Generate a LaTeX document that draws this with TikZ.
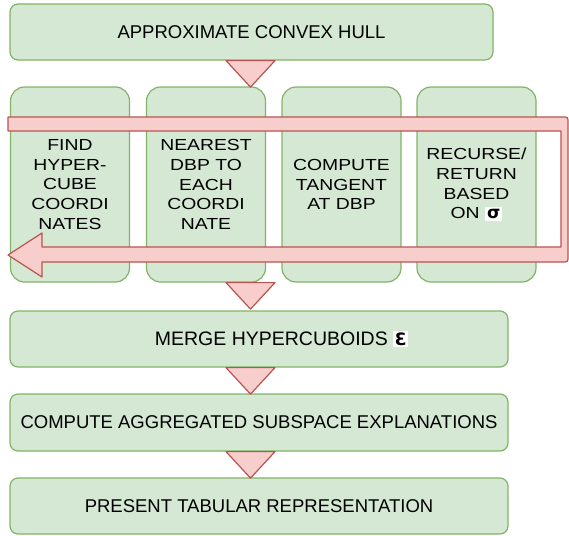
\documentclass[tikz,border=0pt]{standalone}
\usepackage{fontspec}
\setmainfont{Liberation Sans}
\newfontfamily\midfont{Liberation Sans}[FakeStretch=1.21]
\newfontfamily\symfont{DejaVu Sans}
\definecolor{gfill}{HTML}{D5E8D4}
\definecolor{gline}{HTML}{82B366}
\definecolor{rfill}{HTML}{F8CECC}
\definecolor{rline}{HTML}{B85450}
\newcommand{\sigbox}{{\setlength{\fboxsep}{2pt}\colorbox{white}{\symfont\bfseries\fontsize{17}{17}\selectfont σ}}}
\newcommand{\epsbox}{{\setlength{\fboxsep}{1.5pt}\colorbox{white}{\symfont\bfseries\fontsize{17}{17}\selectfont Ɛ}}}
\begin{document}
\begin{tikzpicture}[x=1pt,y=-1pt,
  wide/.style={draw=gline, fill=gfill, line width=1.2pt, rounded corners=8pt,
    minimum height=56pt, inner sep=0pt},
  tall/.style={draw=gline, fill=gfill, line width=1.2pt, rounded corners=14pt,
    minimum width=119pt, minimum height=195pt, inner sep=0pt, align=center,
    font=\midfont\fontsize{16}{19.7}\selectfont},
  lbl/.style={font=\fontsize{18.5}{22}\selectfont, inner sep=0pt},
  loopstyle/.style={draw=rline, fill=rfill, line width=1.2pt, line join=round},
  tri/.pic={\draw[draw=rline, fill=rfill, line width=1.2pt, line join=round]
    (-24.5,0) -- (24.5,0) -- (0,26.5) -- cycle;}
]
\useasboundingbox (0,0) rectangle (569,535);

% top box
\node[wide, lbl, minimum width=483pt] (hull) at (251.5,32) {APPROXIMATE CONVEX HULL};

% middle boxes
\node[tall] (m1) at (70,184.5) {FIND\\HYPER-\\CUBE\\COORDI\\NATES};
\node[tall] (m2) at (206,184.5) {NEAREST\\DBP TO\\EACH\\COORDI\\NATE};
\node[tall] (m3) at (341.5,184.5) {COMPUTE\\TANGENT\\AT DBP};
\node[tall] (m4) at (476.5,184.5) {RECURSE/\\RETURN\\BASED\\ON \sigbox};

% lower boxes
\node[wide, minimum width=498pt] (merge) at (259,339) {};
\node[lbl, font=\fontsize{19.5}{22}\selectfont] (mergetxt) at (281.5,339) {MERGE HYPERCUBOIDS \epsbox};
\node[wide, lbl, minimum width=498pt, minimum height=57pt] (agg) at (259,422.5) {COMPUTE AGGREGATED SUBSPACE EXPLANATIONS};
\node[wide, lbl, minimum width=498pt] (pres) at (259,506) {PRESENT TABULAR REPRESENTATION};

% loop arrow
\draw[loopstyle] (8,117) -- (562,117) .. controls (568,117) .. (568,123)
  -- (568,256) .. controls (568,262) .. (562,262)
  -- (42,262) -- (42,277) -- (8,255) -- (42,233) -- (42,247)
  -- (561,247) -- (561,131) -- (8,131) -- cycle;

% triangles
\coordinate (tx) at (250.5,0);
\pic at (hull.south -| tx) {tri};
\pic at (m1.south -| tx) {tri};
\pic at (merge.south -| tx) {tri};
\pic at (agg.south -| tx) {tri};
\end{tikzpicture}
\end{document}
